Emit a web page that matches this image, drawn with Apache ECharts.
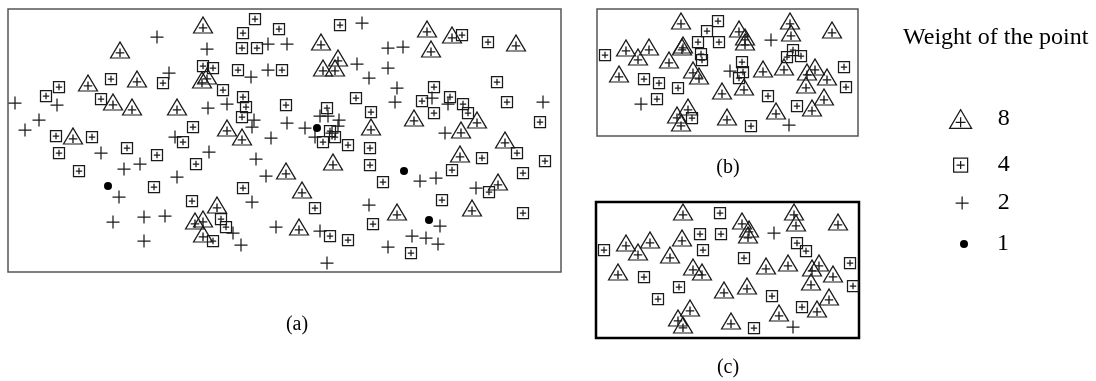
<!DOCTYPE html>
<html>
<head>
<meta charset="utf-8">
<title>Weight of the point</title>
<script src="https://cdn.jsdelivr.net/npm/echarts@6.0.0/dist/echarts.min.js"></script>
<style>
  html, body { margin: 0; padding: 0; background: #fff; }
  #main { width: 1096px; height: 381px; }
</style>
</head>
<body>
<div id="main"></div>
<script>
// point positions, in sheet units (x to the right, y downwards)

// panel (a)
const triA = [
  [203, 25], [120, 50], [88, 83], [137, 79], [202, 80], [207, 76], [113, 102], [132, 107], [177, 107],
  [227, 128], [242, 137], [73, 136], [427, 29], [452, 35], [321, 42], [431, 49], [516, 43], [338, 58],
  [323, 68], [335, 68], [414, 118], [371, 127], [477, 120], [461, 130], [505, 140], [217, 205], [195, 221],
  [203, 219], [203, 234], [286, 171], [333, 162], [302, 190], [299, 227], [397, 212], [460, 154], [498, 182],
  [472, 208]
];
const sqA = [
  [255, 19], [243, 33], [279, 29], [242, 48], [257, 48], [282, 70], [238, 70], [203, 66], [213, 68],
  [223, 90], [163, 83], [111, 79], [59, 87], [46, 96], [101, 99], [243, 97], [246, 107], [242, 117],
  [286, 105], [193, 127], [183, 142], [56, 136], [92, 137], [340, 25], [462, 35], [488, 42], [497, 82],
  [434, 87], [450, 97], [422, 101], [356, 98], [507, 102], [463, 104], [468, 113], [434, 113], [371, 112],
  [327, 108], [330, 131], [335, 137], [323, 142], [348, 145], [370, 148], [540, 122], [59, 153], [79, 171],
  [127, 148], [157, 155], [196, 164], [154, 187], [192, 201], [243, 188], [221, 219], [226, 227], [213, 241],
  [370, 165], [383, 182], [482, 158], [517, 153], [545, 161], [452, 170], [523, 173], [489, 192], [442, 200],
  [523, 213], [315, 208], [373, 224], [330, 236], [348, 240], [411, 253]
];
const plusA = [
  [157, 37], [207, 49], [268, 44], [287, 44], [169, 73], [251, 77], [268, 70], [15, 103], [57, 105],
  [39, 120], [25, 130], [208, 108], [227, 104], [254, 120], [252, 127], [287, 123], [271, 138], [175, 137],
  [362, 23], [388, 48], [403, 47], [357, 64], [388, 68], [369, 78], [397, 88], [395, 102], [432, 98],
  [448, 104], [543, 102], [320, 116], [328, 116], [339, 120], [338, 126], [305, 128], [315, 137], [445, 133],
  [332, 133], [101, 153], [209, 152], [124, 169], [140, 164], [177, 177], [256, 159], [266, 176], [119, 197],
  [252, 202], [113, 222], [144, 217], [165, 216], [144, 241], [233, 233], [241, 245], [276, 227], [420, 181],
  [436, 178], [476, 188], [369, 205], [320, 231], [440, 226], [412, 236], [426, 238], [438, 244], [388, 247],
  [327, 263]
];
const dotA = [[317, 128], [108, 186], [404, 171], [429, 220]];

// panel (b)
const triB = [
  [681, 21], [790, 21], [791, 33], [739, 29], [745, 37], [745, 42], [832, 30], [626, 48], [649, 47],
  [638, 57], [683, 45], [682, 47], [669, 60], [619, 74], [693, 70], [699, 76], [763, 69], [784, 67],
  [807, 72], [815, 67], [827, 77], [806, 85], [744, 87], [722, 91], [824, 97], [776, 111], [812, 108],
  [688, 107], [677, 115], [681, 123], [727, 117]
];
const sqB = [
  [718, 21], [707, 31], [698, 42], [719, 42], [701, 54], [702, 60], [742, 62], [743, 72], [739, 78],
  [787, 57], [793, 50], [801, 56], [605, 55], [644, 79], [659, 83], [678, 88], [657, 99], [692, 118],
  [768, 96], [797, 106], [844, 67], [846, 87], [751, 126]
];
const plusB = [[771, 40], [730, 71], [641, 104], [789, 125]];

// panel (c)
const triC = [
  [683, 212], [794, 212], [796, 223], [742, 221], [749, 229], [748, 235], [838, 222], [626, 243], [650, 240],
  [638, 252], [682, 238], [670, 255], [618, 272], [693, 267], [702, 272], [766, 266], [788, 263], [812, 268],
  [819, 263], [833, 274], [811, 282], [747, 286], [724, 290], [829, 297], [779, 313], [817, 309], [690, 308],
  [678, 318], [683, 325], [731, 321]
];
const sqC = [
  [720, 213], [700, 234], [721, 234], [703, 250], [744, 258], [797, 243], [806, 251], [604, 250], [644, 277],
  [679, 287], [658, 299], [772, 296], [802, 307], [850, 263], [853, 286], [754, 328]
];
const plusC = [[774, 233], [793, 327]];

const weights = ['8', '4', '2', '1'];
const panelLabels = ['(a)', '(b)', '(c)'];

const TRI = 'path://M0,17L10,0L20,17Z M10,7V16 M5.5,11.5H14.5';
const SQ = 'path://M0,0H12V12H0Z M6,2.5V9.5 M2.5,6H9.5';
const PLUS = 'path://M7,0V14 M0,7H14';
const marks = {
  '8': { symbol: TRI, size: [19, 16] },
  '4': { symbol: SQ, size: [11, 11] },
  '2': { symbol: PLUS, size: [13, 13] },
  '1': { symbol: 'circle', size: 8 }
};

const serif = 'Liberation Serif';
const ink = '#1a1a1a';

function pointSeries(name, idx, data) {
  const m = marks[name];
  const solid = name === '1';
  return {
    type: 'scatter',
    name: name,
    xAxisIndex: idx,
    yAxisIndex: idx,
    data: data,
    symbol: m.symbol,
    symbolSize: m.size,
    silent: true,
    itemStyle: {
      color: solid ? '#000' : 'rgba(0,0,0,0)',
      borderColor: ink,
      borderWidth: solid ? 0 : 1.25,
      opacity: 1
    }
  };
}

function legendFor(name, left, top, w, h, pad) {
  return {
    data: [{ name: name, icon: marks[name].symbol }],
    left: left,
    top: top,
    itemWidth: w,
    itemHeight: h,
    selectedMode: false,
    itemStyle: {
      color: name === '1' ? '#000' : 'rgba(0,0,0,0)',
      borderColor: ink,
      borderWidth: name === '1' ? 0 : 1.25
    },
    textStyle: { fontFamily: serif, fontSize: 24, color: '#000', padding: [0, 0, 0, pad] }
  };
}

const chart = echarts.init(document.getElementById('main'));

chart.setOption({
  animation: false,
  backgroundColor: '#fff',
  title: {
    text: 'Weight of the point',
    left: 903,
    top: 26,
    padding: 0,
    textStyle: { fontFamily: serif, fontSize: 24, fontWeight: 'normal', color: '#000' }
  },
  legend: [
    legendFor(weights[0], 944, 102, 22, 19, 21),
    legendFor(weights[1], 948, 148, 14, 14, 25),
    legendFor(weights[2], 950, 186, 13, 13, 24),
    legendFor(weights[3], 955, 227, 8, 8, 24)
  ],
  grid: [
    { left: 8, top: 9, width: 553, height: 263, show: true, borderColor: '#555', borderWidth: 1.5 },
    { left: 597, top: 9, width: 261, height: 127, show: true, borderColor: '#555', borderWidth: 1.5 },
    { left: 596, top: 202, width: 263, height: 136, show: true, borderColor: '#000', borderWidth: 2.5 }
  ],
  xAxis: [
    { type: 'value', gridIndex: 0, min: 8, max: 561, show: false },
    { type: 'value', gridIndex: 1, min: 597, max: 858, show: false },
    { type: 'value', gridIndex: 2, min: 596, max: 859, show: false }
  ],
  yAxis: [
    { type: 'value', gridIndex: 0, min: 9, max: 272, inverse: true, show: false },
    { type: 'value', gridIndex: 1, min: 9, max: 136, inverse: true, show: false },
    { type: 'value', gridIndex: 2, min: 202, max: 338, inverse: true, show: false }
  ],
  graphic: [
    { type: 'text', x: 297, y: 325, style: { text: panelLabels[0], font: '20px "Liberation Serif"', textAlign: 'center', textVerticalAlign: 'middle', fill: '#000' } },
    { type: 'text', x: 728, y: 168, style: { text: panelLabels[1], font: '20px "Liberation Serif"', textAlign: 'center', textVerticalAlign: 'middle', fill: '#000' } },
    { type: 'text', x: 728, y: 368, style: { text: panelLabels[2], font: '20px "Liberation Serif"', textAlign: 'center', textVerticalAlign: 'middle', fill: '#000' } }
  ],
  series: [
    pointSeries('8', 0, triA),
    pointSeries('4', 0, sqA),
    pointSeries('2', 0, plusA),
    pointSeries('1', 0, dotA),
    pointSeries('8', 1, triB),
    pointSeries('4', 1, sqB),
    pointSeries('2', 1, plusB),
    pointSeries('8', 2, triC),
    pointSeries('4', 2, sqC),
    pointSeries('2', 2, plusC)
  ]
});
</script>
</body>
</html>
